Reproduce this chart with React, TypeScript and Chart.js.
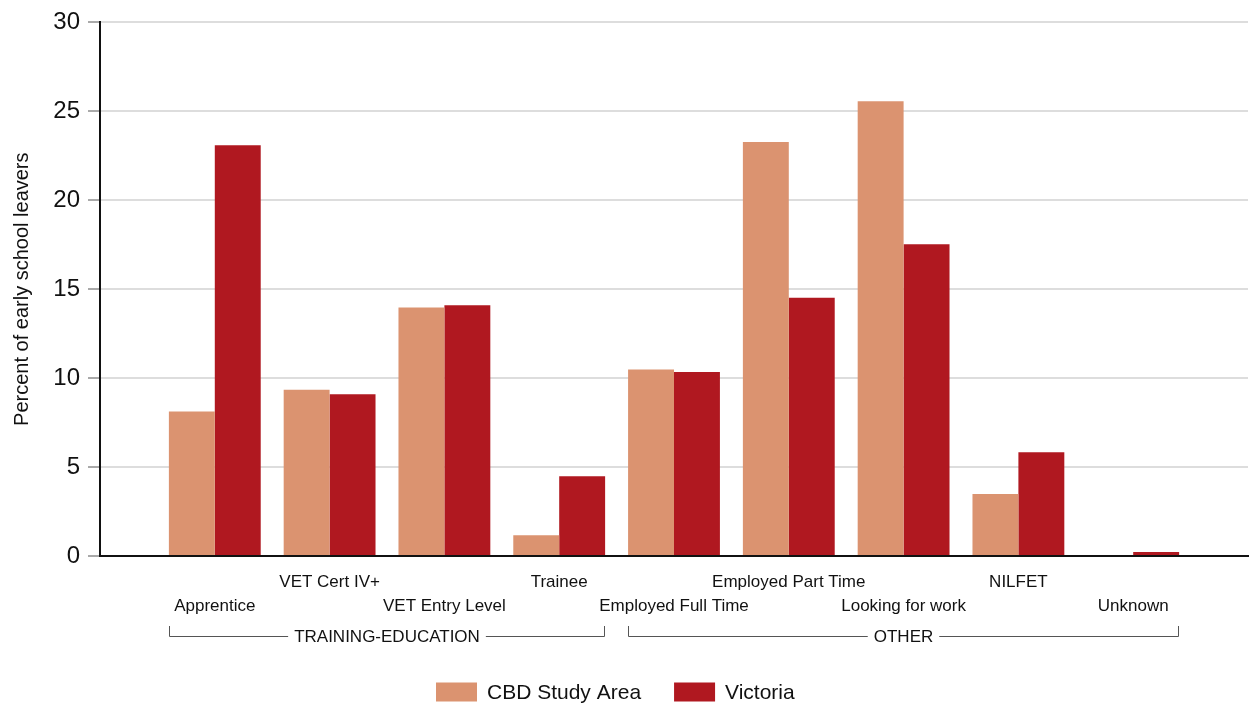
import React, { useEffect, useRef } from "react";
import { Chart, registerables } from "chart.js";

Chart.register(...registerables);

const categories = [
  "Apprentice",
  "VET Cert IV+",
  "VET Entry Level",
  "Trainee",
  "Employed Full Time",
  "Employed Part Time",
  "Looking for work",
  "NILFET",
  "Unknown",
];
const cbdValues = [8.12, 9.34, 13.97, 1.16, 10.48, 23.27, 25.57, 3.48, 0];
const vicValues = [23.09, 9.1, 14.1, 4.48, 10.34, 14.52, 17.53, 5.84, 0.22];
const yTicks = [0, 5, 10, 15, 20, 25, 30];
const seriesNames = ["CBD Study Area", "Victoria"];
const seriesColors = ["#DB9370", "#B01820"];
const groups = [
  { label: "TRAINING-EDUCATION", from: 0, to: 3 },
  { label: "OTHER", from: 4, to: 8 },
];

const FONT = "'Liberation Sans', Arial, sans-serif";

export default function App() {
  const ref = useRef<HTMLCanvasElement>(null);

  useEffect(() => {
    document.body.style.margin = "0";
    const canvas = ref.current;
    if (!canvas) return;

    // padded labels: one empty slot before and after
    const labels = ["", ...categories, ""];
    const pad = (arr: number[]) => [null, ...arr, null];

    const groupPlugin = {
      id: "groupBrackets",
      afterDraw(chart: any) {
        const ctx = chart.ctx;
        const xs = chart.scales.x;
        const spacing = xs.getPixelForValue(2) - xs.getPixelForValue(1);
        const half = spacing * 0.4;
        const yLine = 636;
        const yTop = 626;
        ctx.save();
        ctx.font = `17px ${FONT}`;
        ctx.textAlign = "center";
        ctx.textBaseline = "middle";
        ctx.strokeStyle = "#555555";
        ctx.lineWidth = 1;
        groups.forEach((g) => {
          const l = Math.round(xs.getPixelForValue(g.from + 1) - half) + 0.5;
          const r = Math.round(xs.getPixelForValue(g.to + 1) + half) - 0.5;
          const c = (l + r) / 2;
          const tw = ctx.measureText(g.label).width;
          ctx.beginPath();
          ctx.moveTo(l, yTop);
          ctx.lineTo(l, yLine + 0.5);
          ctx.lineTo(c - tw / 2 - 6, yLine + 0.5);
          ctx.moveTo(c + tw / 2 + 6, yLine + 0.5);
          ctx.lineTo(r, yLine + 0.5);
          ctx.lineTo(r, yTop);
          ctx.stroke();
          ctx.fillStyle = "#111111";
          ctx.fillText(g.label, c, yLine + 1);
        });

        // legend
        const legendY = 692;
        ctx.font = `21px ${FONT}`;
        ctx.textAlign = "left";
        let x = 436;
        seriesNames.forEach((name, i) => {
          ctx.fillStyle = seriesColors[i];
          ctx.fillRect(x, legendY - 9.5, 41, 19);
          ctx.fillStyle = "#111111";
          ctx.fillText(name, x + 51, legendY + 1);
          x += 51 + ctx.measureText(name).width + 33;
        });
        ctx.restore();
      },
    };

    const chart = new Chart(canvas, {
      type: "bar",
      data: {
        labels,
        datasets: [
          {
            label: seriesNames[0],
            data: pad(cbdValues) as any,
            backgroundColor: seriesColors[0],
            borderWidth: 0,
          },
          {
            label: seriesNames[1],
            data: pad(vicValues) as any,
            backgroundColor: seriesColors[1],
            borderWidth: 0,
          },
        ],
      },
      options: {
        animation: false,
        responsive: false,
        maintainAspectRatio: false,
        datasets: {
          bar: { categoryPercentage: 0.8, barPercentage: 1 },
        },
        layout: { padding: { top: 22, right: 1, bottom: 0, left: 0 } },
        plugins: {
          legend: { display: false },
          tooltip: { enabled: false },
          title: { display: false },
        },
        scales: {
          x: {
            offset: false,
            grid: { display: false },
            border: { display: true, color: "#111111", width: 2 },
            ticks: {
              autoSkip: false,
              maxRotation: 0,
              minRotation: 0,
              padding: 6,
              color: "#111111",
              font: { family: FONT, size: 17, lineHeight: 1.42 },
              callback: (_v: any, i: number) => {
                if (i === 0 || i === labels.length - 1) return "";
                const name = labels[i];
                return (i - 1) % 2 === 0 ? ["", name] : [name, ""];
              },
            },
            afterFit: (scale: any) => {
              scale.height = 151;
              scale.paddingRight = 0;
              scale.paddingLeft = 0;
            },
          },
          y: {
            min: 0,
            max: 30,
            afterBuildTicks: (scale: any) => {
              scale.ticks = yTicks.map((v) => ({ value: v }));
            },
            grid: {
              color: "#dddddd",
              lineWidth: 2,
              tickColor: "#555555",
              tickWidth: 1,
              tickLength: 12,
            },
            border: { display: true, color: "#111111", width: 2 },
            ticks: {
              padding: 8,
              color: "#111111",
              font: { family: FONT, size: 24 },
            },
            title: {
              display: true,
              text: "Percent of early school leavers",
              color: "#111111",
              font: { family: FONT, size: 20 },
              padding: { top: 10, bottom: 0 },
            },
            afterFit: (scale: any) => {
              scale.width = 100;
            },
          },
        },
      },
      plugins: [groupPlugin],
    });

    return () => chart.destroy();
  }, []);

  return (
    <canvas
      ref={ref}
      width={1249}
      height={707}
      style={{ display: "block", width: 1249, height: 707 }}
    />
  );
}
